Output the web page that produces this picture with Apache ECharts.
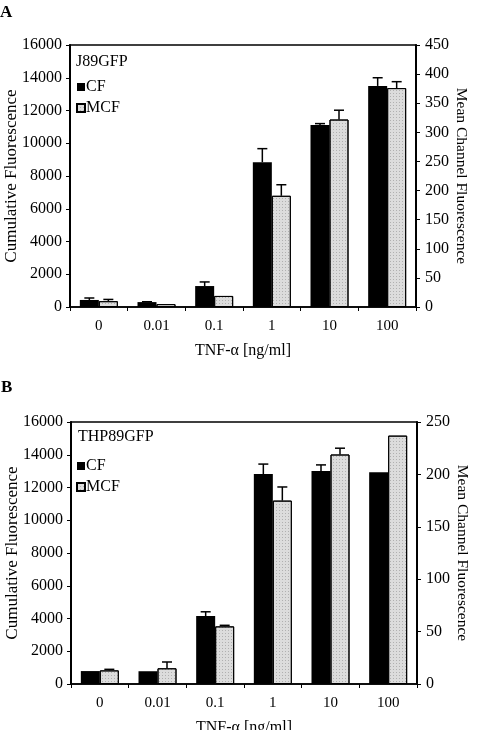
<!DOCTYPE html>
<html>
<head>
<meta charset="utf-8">
<script src="https://cdn.jsdelivr.net/npm/echarts@6/dist/echarts.min.js"></script>
<style>
html, body { margin: 0; padding: 0; background: #fff; }
#container { width: 480px; height: 730px; }
</style>
</head>
<body>
<div id="container"></div>
<script>
// data
const categories = ['0', '0.01', '0.1', '1', '10', '100'];

// panel A: J89GFP
const aCF = [430, 300, 1280, 8840, 11120, 13500];
const aCFErr = [120, 20, 250, 830, 80, 500];
const aMCF = [10, 5, 19, 191, 322, 376];
const aMCFErr = [3, 0, 0, 19, 16, 11];

// panel B: THP89GFP
const bCF = [790, 780, 4150, 12820, 13010, 12930];
const bCFErr = [0, 0, 260, 610, 370, 0];
const bMCF = [13, 15, 55, 175, 219, 237];
const bMCFErr = [1, 6, 1, 13, 6, 0];

const leftTicks = { min: 0, max: 16000, interval: 2000 };
const rightA = { min: 0, max: 450, interval: 50 };
const rightB = { min: 0, max: 250, interval: 50 };

let dom = document.getElementById('container');
let myChart = echarts.init(dom, null, { renderer: 'canvas' });

const font = 'Liberation Serif';
const BAR_W = 19;

const mcfStyle = {
    color: '#dcdcdc',
    borderColor: '#000',
    borderWidth: 1,
    decal: {
        symbol: 'rect',
        symbolSize: 1,
        dashArrayX: [1, 2],
        dashArrayY: [1, 2],
        color: 'rgba(0,0,0,0.2)'
    }
};

function errData(vals, errs) {
    return vals.map(function (v, i) { return [i, v, v + errs[i]]; });
}

// error bar drawn through the axis scales
function errSeries(vals, errs, xi, yi, offset) {
    return {
        type: 'custom',
        xAxisIndex: xi,
        yAxisIndex: yi,
        silent: true,
        z: 1,
        data: errData(vals, errs),
        renderItem: function (params, api) {
            if (api.value(2) <= api.value(1)) return;
            const base = api.coord([api.value(0), api.value(1)]);
            const top = api.coord([api.value(0), api.value(2)]);
            const x = base[0] + offset;
            const style = { stroke: '#000', lineWidth: 1.5 };
            return {
                type: 'group',
                children: [
                    { type: 'line', shape: { x1: x, y1: base[1], x2: x, y2: top[1] }, style: style },
                    { type: 'line', shape: { x1: x - 5, y1: top[1], x2: x + 5, y2: top[1] }, style: style }
                ]
            };
        }
    };
}

function xAxisFor(gi) {
    return {
        type: 'category',
        gridIndex: gi,
        data: categories,
        name: 'TNF-α [ng/ml]',
        nameLocation: 'middle',
        nameGap: 36,
        nameMoveOverlap: false,
        nameTextStyle: { fontFamily: font, fontSize: 16, color: '#000' },
        axisLine: { lineStyle: { color: '#000', width: 1.5 } },
        axisTick: { show: true, length: 4, lineStyle: { color: '#000' } },
        axisLabel: { fontFamily: font, fontSize: 15, color: '#000', margin: 12 }
    };
}

function leftAxisFor(gi) {
    return {
        type: 'value',
        gridIndex: gi,
        position: 'left',
        min: leftTicks.min,
        max: leftTicks.max,
        interval: leftTicks.interval,
        name: 'Cumulative Fluorescence',
        nameLocation: 'middle',
        nameGap: 50,
        nameMoveOverlap: false,
        nameTextStyle: { fontFamily: font, fontSize: 17, color: '#000' },
        axisLine: { show: true, lineStyle: { color: '#000', width: 2 } },
        axisTick: { show: true, length: 4, lineStyle: { color: '#000' } },
        axisLabel: { fontFamily: font, fontSize: 16, color: '#000', margin: 8, formatter: function (v) { return String(v); } },
        splitLine: { show: false }
    };
}

function rightAxisFor(gi, r) {
    return {
        type: 'value',
        gridIndex: gi,
        position: 'right',
        min: r.min,
        max: r.max,
        interval: r.interval,
        name: 'Mean Channel Fluorescence',
        nameLocation: 'middle',
        nameRotate: -90,
        nameGap: 37,
        nameMoveOverlap: false,
        nameTextStyle: { fontFamily: font, fontSize: 15.5, color: '#000' },
        axisLine: { show: true, lineStyle: { color: '#000', width: 2 } },
        axisTick: { show: true, length: 4, lineStyle: { color: '#000' } },
        axisLabel: { fontFamily: font, fontSize: 16, color: '#000', margin: 9, formatter: function (v) { return String(v); } },
        splitLine: { show: false }
    };
}

function legendFor(top) {
    return {
        orient: 'vertical',
        left: 76,
        top: top,
        padding: 0,
        itemWidth: 8,
        itemHeight: 8,
        itemGap: 5,
        icon: 'rect',
        selectedMode: false,
        textStyle: { fontFamily: font, fontSize: 16, color: '#000', padding: [0, 0, 0, -4] },
        data: ['CF', 'MCF']
    };
}

let option = {
    backgroundColor: '#fff',
    animation: false,
    title: [
        { text: 'A', left: 0, top: 4, padding: 0, textStyle: { fontFamily: font, fontSize: 17, fontWeight: 'bold', color: '#000' } },
        { text: 'B', left: 1, top: 379, padding: 0, textStyle: { fontFamily: font, fontSize: 17, fontWeight: 'bold', color: '#000' } },
        { text: 'J89GFP', left: 76, top: 54, padding: 0, textStyle: { fontFamily: font, fontSize: 16, fontWeight: 'normal', color: '#000' } },
        { text: 'THP89GFP', left: 78, top: 429, padding: 0, textStyle: { fontFamily: font, fontSize: 16, fontWeight: 'normal', color: '#000' } }
    ],
    legend: [legendFor(79), legendFor(458)],
    grid: [
        { left: 70, top: 45, width: 346, height: 262, outerBoundsMode: 'none', containLabel: false, show: true, borderColor: '#000', borderWidth: 1.5, backgroundColor: 'transparent' },
        { left: 71, top: 422, width: 346, height: 262, outerBoundsMode: 'none', containLabel: false, show: true, borderColor: '#000', borderWidth: 1.5, backgroundColor: 'transparent' }
    ],
    xAxis: [xAxisFor(0), xAxisFor(1)],
    yAxis: [leftAxisFor(0), rightAxisFor(0, rightA), leftAxisFor(1), rightAxisFor(1, rightB)],
    series: [
        { name: 'CF', type: 'bar', xAxisIndex: 0, yAxisIndex: 0, data: aCF, barWidth: BAR_W, barGap: '0%', itemStyle: { color: '#000' }, z: 2 },
        { name: 'MCF', type: 'bar', xAxisIndex: 0, yAxisIndex: 1, data: aMCF, barWidth: BAR_W, barGap: '0%', itemStyle: mcfStyle, z: 2 },
        errSeries(aCF, aCFErr, 0, 0, -BAR_W / 2),
        errSeries(aMCF, aMCFErr, 0, 1, BAR_W / 2),
        { name: 'CF', type: 'bar', xAxisIndex: 1, yAxisIndex: 2, data: bCF, barWidth: BAR_W, barGap: '0%', itemStyle: { color: '#000' }, z: 2 },
        { name: 'MCF', type: 'bar', xAxisIndex: 1, yAxisIndex: 3, data: bMCF, barWidth: BAR_W, barGap: '0%', itemStyle: mcfStyle, z: 2 },
        errSeries(bCF, bCFErr, 1, 2, -BAR_W / 2),
        errSeries(bMCF, bMCFErr, 1, 3, BAR_W / 2)
    ]
};

myChart.setOption(option);
</script>
</body>
</html>
